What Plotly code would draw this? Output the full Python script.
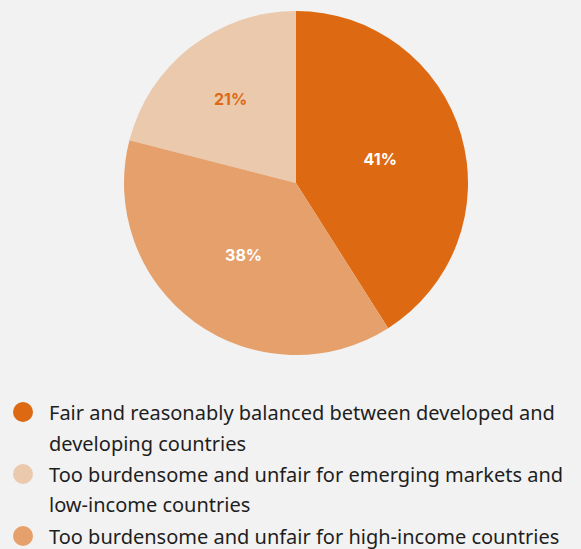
import plotly.graph_objects as go

# Survey shares
labels = [
    "Fair and reasonably balanced between developed and developing countries",
    "Too burdensome and unfair for emerging markets and low-income countries",
    "Too burdensome and unfair for high-income countries",
]
legend_lines = [
    ["Fair and reasonably balanced between developed and", "developing countries"],
    ["Too burdensome and unfair for emerging markets and", "low-income countries"],
    ["Too burdensome and unfair for high-income countries"],
]
values = [41, 21, 38]
colors = ["#DD6A12", "#EBC9AD", "#E5A06B"]
text_colors = ["#FFFFFF", "#DD6A12", "#FFFFFF"]

W, H = 581, 549
BG = "#F2F2F2"

# first slice runs clockwise from 12 o'clock, the rest counterclockwise
fig = go.Figure(
    go.Pie(
        labels=labels,
        values=values,
        sort=False,
        direction="counterclockwise",
        rotation=0,
        marker=dict(colors=colors, line=dict(width=0)),
        texttemplate="%{value}%",
        textposition="inside",
        insidetextorientation="horizontal",
        textfont=dict(family="Inter", size=16, color=text_colors, weight="bold"),
        showlegend=False,
        hoverinfo="label+percent",
        domain=dict(x=[124 / W, 468 / W], y=[1 - 355 / H, 1 - 11 / H]),
    )
)

# legend built from circles and text lines
shapes = []
annotations = []
line_h = 31
y = 412
for color, lines in zip(colors, legend_lines):
    yc = 1 - y / H
    shapes.append(dict(
        type="circle", xref="paper", yref="paper",
        xsizemode="pixel", ysizemode="pixel",
        xanchor=23 / W, yanchor=yc,
        x0=-10, x1=10, y0=-10, y1=10,
        fillcolor=color, line=dict(width=0),
    ))
    for i, line in enumerate(lines):
        annotations.append(dict(
            text=line, xref="paper", yref="paper",
            x=48 / W, y=1 - (y + i * line_h) / H,
            xanchor="left", yanchor="middle", showarrow=False,
            borderpad=0,
            font=dict(family="Noto Sans", size=20, color="#1E1E1E"),
        ))
    y += line_h * len(lines)

fig.update_layout(
    width=W, height=H,
    margin=dict(l=0, r=0, t=0, b=0),
    paper_bgcolor=BG, plot_bgcolor=BG,
    shapes=shapes, annotations=annotations,
)

fig.write_html("out.html")
